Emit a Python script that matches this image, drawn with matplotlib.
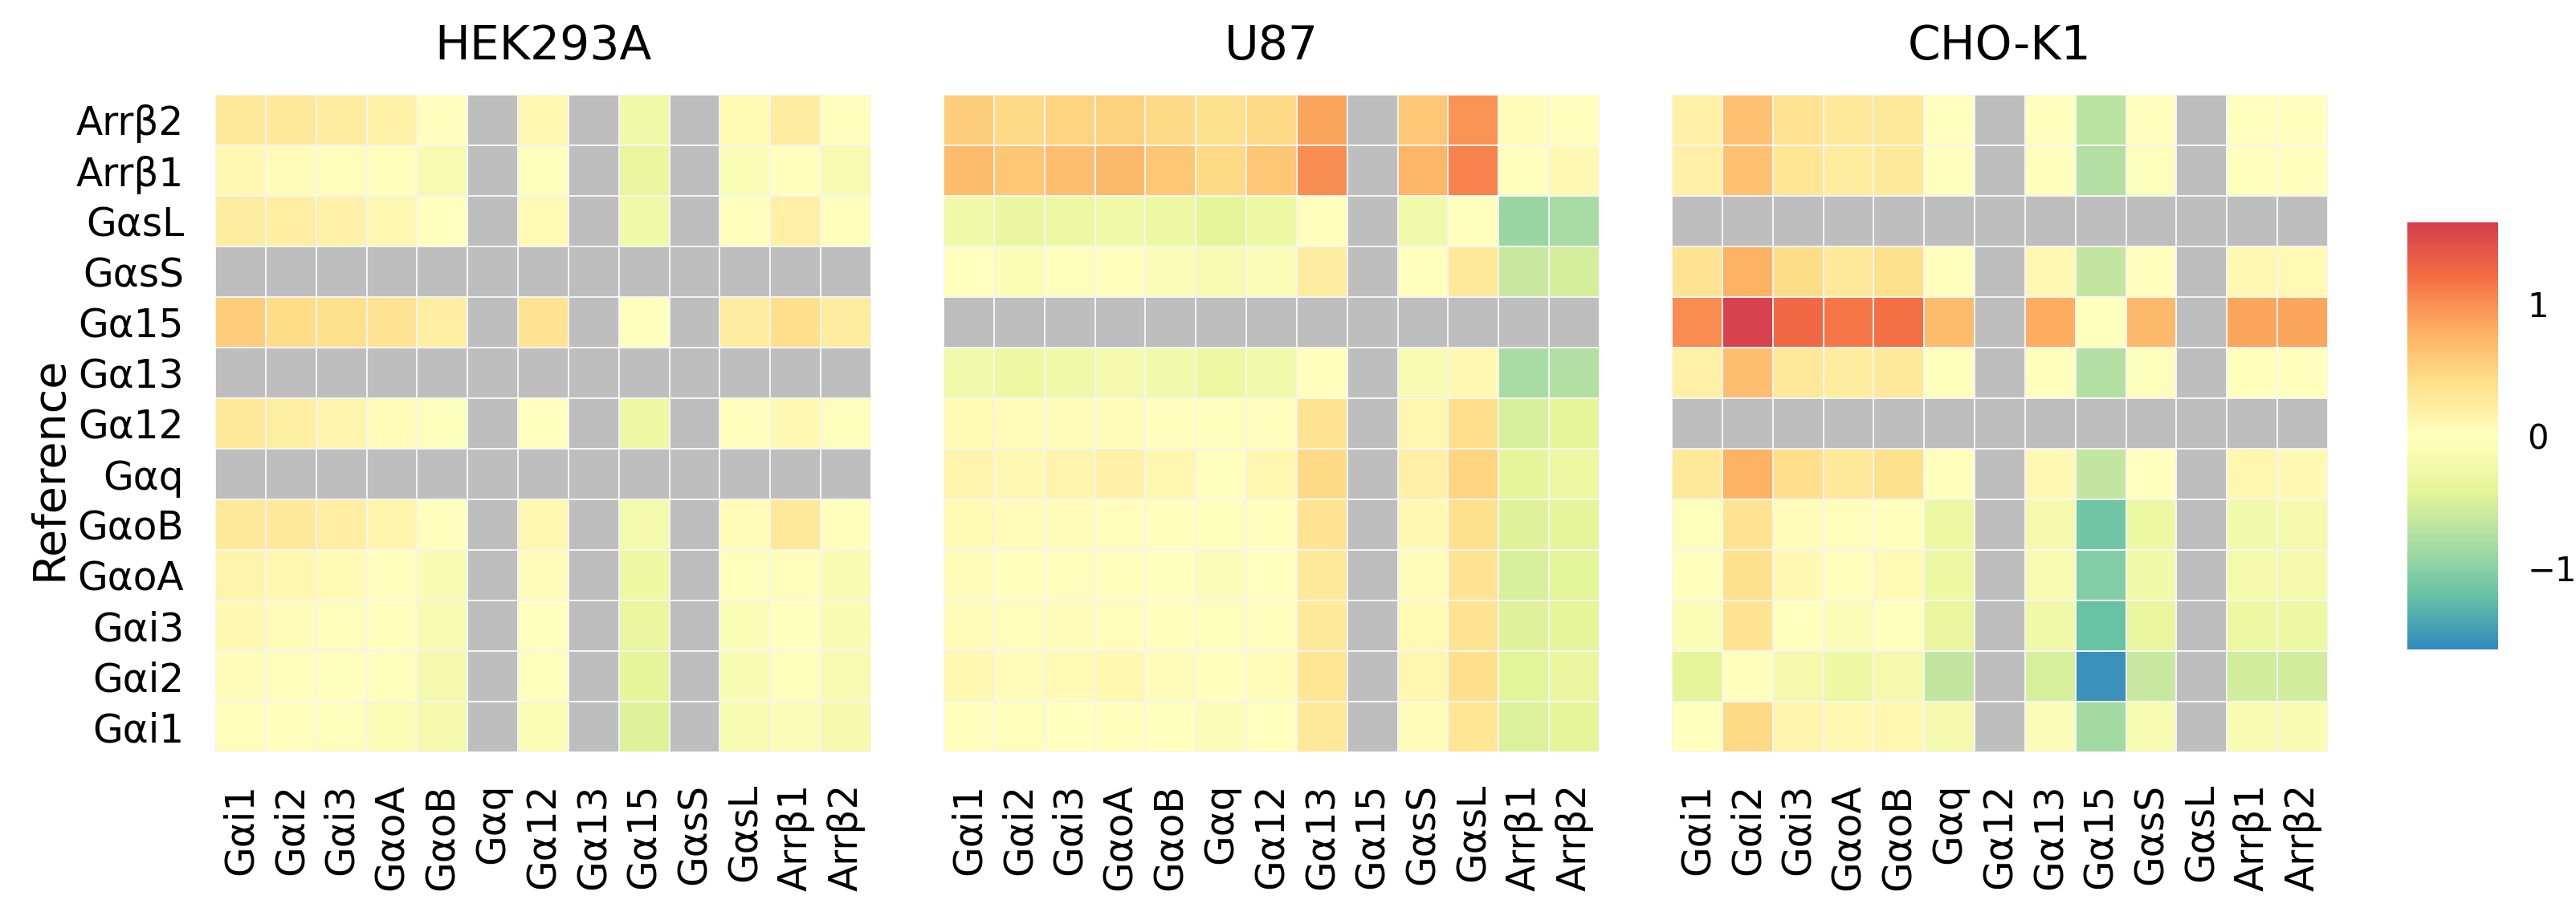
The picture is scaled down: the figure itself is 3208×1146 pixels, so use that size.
import numpy as np
import matplotlib
matplotlib.use('Agg')
import matplotlib.pyplot as plt
from matplotlib.colors import LinearSegmentedColormap

nan = np.nan

# rows (top to bottom) and columns of every panel
rows = ['Arrβ2', 'Arrβ1', 'GαsL', 'GαsS', 'Gα15', 'Gα13', 'Gα12', 'Gαq', 'GαoB', 'GαoA', 'Gαi3', 'Gαi2', 'Gαi1']
cols = ['Gαi1', 'Gαi2', 'Gαi3', 'GαoA', 'GαoB', 'Gαq', 'Gα12', 'Gα13', 'Gα15', 'GαsS', 'GαsL', 'Arrβ1', 'Arrβ2']

hek293a = [
    [0.30, 0.30, 0.25, 0.20, 0.02, nan, 0.12, nan, -0.25, nan, 0.08, 0.25, 0.03],
    [0.10, 0.05, 0.03, 0.02, -0.15, nan, -0.05, nan, -0.35, nan, -0.10, 0.02, -0.15],
    [0.25, 0.22, 0.18, 0.12, 0.00, nan, 0.08, nan, -0.25, nan, 0.02, 0.20, 0.03],
    [nan] * 13,
    [0.55, 0.42, 0.38, 0.35, 0.22, nan, 0.35, nan, 0.00, nan, 0.25, 0.40, 0.25],
    [nan] * 13,
    [0.28, 0.22, 0.15, 0.05, -0.05, nan, 0.00, nan, -0.30, nan, 0.03, 0.10, -0.05],
    [nan] * 13,
    [0.30, 0.28, 0.22, 0.15, 0.02, nan, 0.12, nan, -0.20, nan, 0.05, 0.28, 0.02],
    [0.15, 0.12, 0.08, 0.02, -0.12, nan, 0.05, nan, -0.30, nan, -0.05, 0.03, -0.12],
    [0.10, 0.06, 0.03, -0.02, -0.15, nan, 0.00, nan, -0.35, nan, -0.10, 0.00, -0.12],
    [0.05, 0.03, 0.00, -0.05, -0.18, nan, -0.05, nan, -0.38, nan, -0.12, -0.05, -0.15],
    [0.03, -0.02, -0.05, -0.10, -0.20, nan, -0.10, nan, -0.45, nan, -0.15, -0.08, -0.18],
]

u87 = [
    [0.55, 0.45, 0.50, 0.52, 0.45, 0.38, 0.45, 0.85, nan, 0.60, 0.97, 0.05, 0.02],
    [0.70, 0.60, 0.68, 0.72, 0.60, 0.45, 0.60, 1.00, nan, 0.75, 1.08, 0.00, 0.10],
    [-0.25, -0.32, -0.28, -0.25, -0.28, -0.38, -0.30, -0.02, nan, -0.22, 0.00, -0.90, -0.82],
    [0.00, -0.10, -0.05, -0.02, -0.08, -0.15, -0.08, 0.25, nan, 0.00, 0.30, -0.62, -0.52],
    [nan] * 13,
    [-0.22, -0.28, -0.25, -0.20, -0.22, -0.28, -0.22, 0.02, nan, -0.15, 0.10, -0.82, -0.75],
    [0.08, 0.06, 0.05, 0.05, 0.02, -0.05, 0.02, 0.35, nan, 0.12, 0.40, -0.50, -0.40],
    [0.15, 0.10, 0.15, 0.18, 0.12, 0.00, 0.12, 0.45, nan, 0.20, 0.50, -0.38, -0.30],
    [0.08, 0.05, 0.05, 0.03, 0.02, -0.05, 0.02, 0.35, nan, 0.10, 0.38, -0.45, -0.38],
    [0.05, -0.02, 0.03, 0.02, 0.00, -0.08, 0.00, 0.28, nan, 0.05, 0.35, -0.50, -0.42],
    [0.05, 0.03, 0.05, 0.03, 0.02, -0.05, 0.02, 0.30, nan, 0.08, 0.35, -0.45, -0.38],
    [0.12, 0.05, 0.08, 0.12, 0.05, 0.02, 0.05, 0.32, nan, 0.12, 0.40, -0.42, -0.35],
    [0.02, -0.03, 0.00, 0.02, 0.00, -0.08, 0.00, 0.28, nan, 0.05, 0.32, -0.48, -0.40],
]

cho_k1 = [
    [0.20, 0.65, 0.35, 0.28, 0.30, 0.00, nan, 0.02, -0.70, -0.02, nan, 0.00, 0.02],
    [0.20, 0.65, 0.32, 0.25, 0.30, 0.00, nan, 0.02, -0.75, -0.05, nan, 0.00, 0.02],
    [nan] * 13,
    [0.35, 0.78, 0.42, 0.30, 0.38, 0.00, nan, 0.10, -0.65, 0.02, nan, 0.10, 0.08],
    [1.02, 1.58, 1.25, 1.15, 1.20, 0.70, nan, 0.82, 0.00, 0.72, nan, 0.85, 0.85],
    [0.20, 0.68, 0.30, 0.25, 0.30, -0.05, nan, 0.02, -0.75, -0.05, nan, 0.02, 0.02],
    [nan] * 13,
    [0.28, 0.78, 0.40, 0.30, 0.38, 0.02, nan, 0.10, -0.65, 0.00, nan, 0.12, 0.10],
    [-0.05, 0.35, 0.05, 0.03, 0.02, -0.30, nan, -0.20, -1.15, -0.28, nan, -0.22, -0.20],
    [0.02, 0.38, 0.10, 0.02, 0.08, -0.28, nan, -0.15, -1.05, -0.25, nan, -0.20, -0.18],
    [-0.10, 0.35, 0.00, -0.08, 0.00, -0.35, nan, -0.25, -1.20, -0.35, nan, -0.28, -0.30],
    [-0.38, 0.02, -0.20, -0.28, -0.20, -0.65, nan, -0.50, -1.55, -0.62, nan, -0.55, -0.55],
    [0.00, 0.45, 0.15, 0.10, 0.12, -0.18, nan, -0.08, -0.85, -0.15, nan, -0.12, -0.12],
]

titles = ['HEK293A', 'U87', 'CHO-K1']
panels = [hek293a, u87, cho_k1]

cmap = LinearSegmentedColormap.from_list('spec', ['#3288bd', '#66c2a5', '#abdda4', '#e6f598', '#ffffbf',
                                                  '#fee08b', '#fdae61', '#f46d43', '#d53e4f'])
cmap.set_bad('#bebebe')
vmin, vmax = -1.62, 1.62

plt.rcParams['font.family'] = 'DejaVu Sans'
fig = plt.figure(figsize=(32.08, 11.46), dpi=100)

lefts = [268, 1175, 2082]
for left, title, data in zip(lefts, titles, panels):
    ax = fig.add_axes([left / 3208, 1 - 937 / 1146, 817 / 3208, 819 / 1146])
    arr = np.ma.masked_invalid(np.array(data, dtype=float))
    mesh = ax.pcolormesh(np.arange(len(cols) + 1), np.arange(len(rows) + 1), arr,
                         cmap=cmap, vmin=vmin, vmax=vmax, edgecolors='#f4f4f4', linewidth=0.25)
    ax.set_xlim(0, len(cols))
    ax.set_ylim(len(rows), 0)
    ax.set_xticks(np.arange(len(cols)) + 0.5)
    ax.set_xticklabels(cols, rotation=90, fontsize=35)
    ax.set_yticks(np.arange(len(rows)) + 0.5)
    if left == lefts[0]:
        ax.set_yticklabels(rows, fontsize=35)
    else:
        ax.set_yticklabels([])
    ax.tick_params(length=0, pad=28)
    for s in ax.spines.values():
        s.set_visible(False)
    ax.set_title(title, fontsize=42, pad=32)

fig.text(0.019, 0.491, 'Reference', rotation=90, fontsize=40, ha='center', va='center')

cax = fig.add_axes([2998 / 3208, 1 - 809 / 1146, 113 / 3208, 532 / 1146])
cb = fig.colorbar(mesh, cax=cax)
cb.outline.set_visible(False)
cb.set_ticks([-1, 0, 1])
cax.tick_params(length=0, pad=26, labelsize=30)

fig.savefig('out.png', dpi=100)
